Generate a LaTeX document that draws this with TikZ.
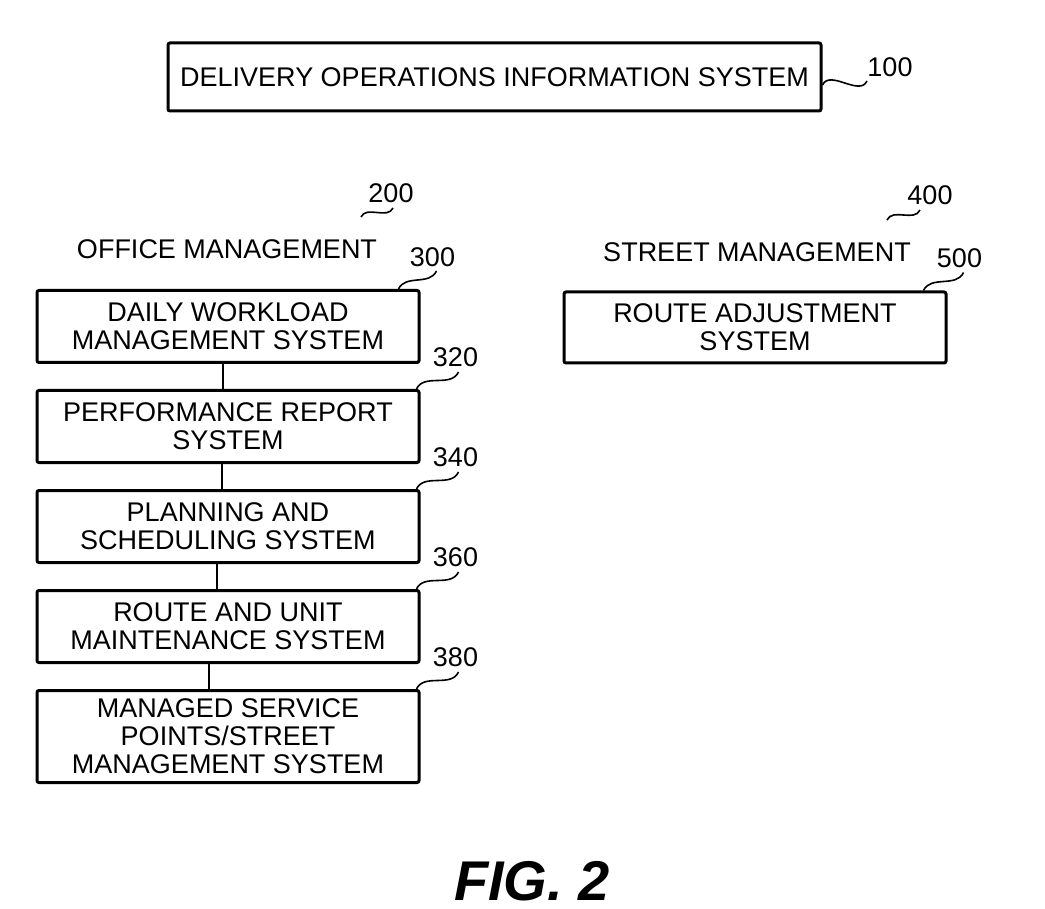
\documentclass[tikz,border=0pt]{standalone}
\usepackage{fontspec}
\setmainfont{Liberation Sans}
\usetikzlibrary{positioning}

\begin{document}
\begin{tikzpicture}
	[
	  x=0.5pt, y=0.5pt,
	  every node/.append style={font=\fontsize{13.5}{14}\selectfont},
	  box/.style={draw, line width=1.5pt, rounded corners=1pt, align=center,
	    minimum width=191pt, minimum height=36pt, inner sep=2pt},
	  num/.style={inner sep=0pt},
	  lead/.style={line width=0.8pt, out=65, in=-115},
	  link/.style={line width=1.3pt},
	  node distance=12.5pt,
	]
	\useasboundingbox (0,0) rectangle (1045,-909);
	\node (sys) [box, minimum width=326.5pt, minimum height=34pt] at (494.5,-77) {DELIVERY OPERATIONS INFORMATION SYSTEM};
	\node (office) at (227,-249) {OFFICE MANAGEMENT};
	\node (street) at (757,-252) {STREET MANAGEMENT};
	\node (b300) [box] at (228,-326.5) {DAILY WORKLOAD\\MANAGEMENT SYSTEM};
	\node (b320) [box, below=of b300] {PERFORMANCE REPORT\\SYSTEM};
	\node (b340) [box, below=of b320] {PLANNING AND\\SCHEDULING SYSTEM};
	\node (b360) [box, below=of b340] {ROUTE AND UNIT\\MAINTENANCE SYSTEM};
	\node (b380) [box, below=of b360, minimum height=46pt] {MANAGED SERVICE\\POINTS/STREET\\MANAGEMENT SYSTEM};
	\node (b500) [box, minimum height=35.5pt] at (755,-327.5) {ROUTE ADJUSTMENT\\SYSTEM};
	\node (fig) at (532,-881) {\fontsize{28}{30}\selectfont\bfseries\itshape FIG. 2};
	% reference numerals
	\node (n100) [num] at (890,-67) {100};
	\node (n200) [num] at (391,-193) {200};
	\node (n400) [num] at (930,-195) {400};
	\node (n300) [num] at ([shift={(12,32)}]b300.north east) {300};
	\node (n500) [num] at ([shift={(12,32)}]b500.north east) {500};
	\node (n320) [num] at ([shift={(35,32)}]b320.north east) {320};
	\node (n340) [num] at ([shift={(35,32)}]b340.north east) {340};
	\node (n360) [num] at ([shift={(35,32)}]b360.north east) {360};
	\node (n380) [num] at ([shift={(35,32)}]b380.north east) {380};
	\draw [link]
	  ([xshift=-2.5pt]b300.south) -- ([xshift=-2.5pt]b320.north)
	  ([xshift=-3pt]b320.south) -- ([xshift=-3pt]b340.north)
	  ([xshift=-5.5pt]b340.south) -- ([xshift=-5.5pt]b360.north)
	  ([xshift=-9.5pt]b360.south) -- ([xshift=-9.5pt]b380.north);
	% leader lines
	\draw [lead]
	  ([yshift=-4pt]sys.east) to ([shift={(-23,-14)}]n100.center)
	  ([shift={(-30,-24)}]n200.center) to ([shift={(2,-15)}]n200.center)
	  ([shift={(-43,-25)}]n400.center) to ([shift={(-10,-15)}]n400.center)
	  ([xshift=-11pt]b300.north east) to ([shift={(4,-14)}]n300.center)
	  ([xshift=-12pt]b500.north east) to ([shift={(4,-14)}]n500.center)
	  ([xshift=-2pt]b320.north east) to ([shift={(3,-15)}]n320.center)
	  ([xshift=-2pt]b340.north east) to ([shift={(3,-15)}]n340.center)
	  ([xshift=-2pt]b360.north east) to ([shift={(3,-15)}]n360.center)
	  ([xshift=-2pt]b380.north east) to ([shift={(3,-15)}]n380.center);
\end{tikzpicture}
\end{document}
